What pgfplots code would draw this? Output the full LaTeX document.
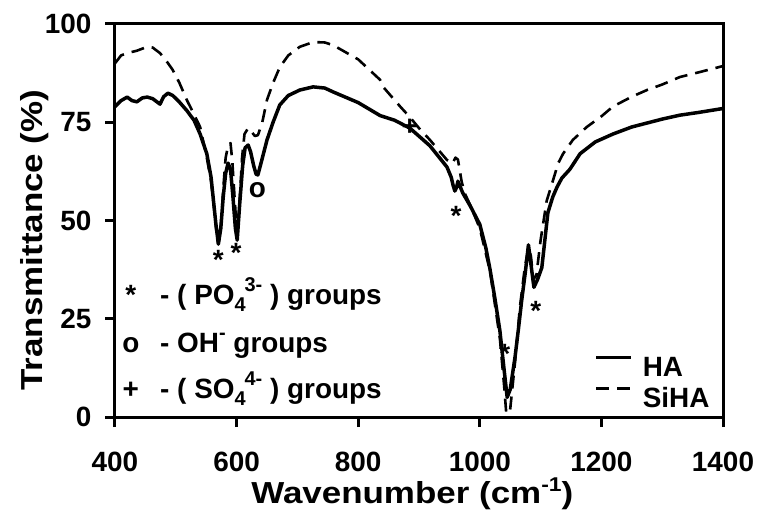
\documentclass[border=0pt]{standalone}
\usepackage{fontspec}
\setmainfont{Liberation Sans}
\newfontfamily\labelfont[FakeStretch=1.15]{Liberation Sans}
\usepackage{pgfplots}
\pgfplotsset{compat=1.18}
\newcommand{\bigf}{\fontsize{28}{33}\selectfont\bfseries}
\newcommand{\labf}{\labelfont\fontsize{30.5}{36}\selectfont\bfseries}
\newcommand{\smf}{\fontsize{20}{20}\selectfont\bfseries}
\begin{document}
\begin{tikzpicture}[font=\bigf]
\begin{axis}[
  at={(0,0)}, anchor=south west,
  scale only axis, width=608bp, height=393bp,
  xmin=400, xmax=1400, ymin=0, ymax=100,
  xtick={400,600,...,1400}, ytick={0,25,50,75,100},
  axis line style={line width=3bp},
  every tick/.style={line width=3bp, black},
  tick align=outside, major tick length=10bp,
  xtick pos=bottom, ytick pos=left,
  /pgf/number format/assume math mode=true,
  /pgf/number format/1000 sep={},
  ticklabel style={font=\bigf},
  xticklabel style={yshift=-21bp},
  yticklabel style={xshift=-10bp},
  xlabel={Wavenumber (cm\raisebox{12bp}{\labelfont\smf -1})},
  ylabel={Transmittance (\%)},
  xlabel style={font=\labf, at={(axis description cs:0.489,-0.221)}, anchor=base},
  ylabel style={font=\labf, at={(axis description cs:-0.120,0.45)}, anchor=base},
  legend style={draw=none, fill=none, at={(axis cs:1378,2.3)}, anchor=south east,
    inner sep=0bp, font=\bigf, row sep=11bp, column sep=10bp,
    nodes={inner sep=0bp, text height=20bp, text depth=0bp}},
  legend cell align=left,
  legend image code/.code={\draw[#1] (0bp,9bp) -- (35bp,9bp);},
]
\addplot[black, line width=3.5bp, line join=round] coordinates {
(400,79) (410,80.5) (420,81.4) (428,80.5) (436,80.2) (445,81.2) (453,81.4) (462,81)
(474,79.6) (480,81.5) (487,82.4) (495,81.8) (505,80.3) (518,78) (530,75.5) (540,72)
(551,67) (558,61) (562,55) (566,49) (570,44) (574,48) (578,56) (582,62) (586,64.6)
(590,63) (594,56) (598,48) (601,45) (605,54) (610,64) (614,68.5) (619,69.2) (623,67.5)
(628,64) (632,61.8) (635,61.6) (640,64.5) (650,70.5) (660,75) (671,79.4) (685,81.8)
(704,83.2) (726,84) (745,83.7) (759,82.7) (800,80) (836,76.7) (860,75.5) (885,73.5)
(918,69) (946,63.6) (953,61) (956,59) (959,57.5) (962,58.5) (964,60) (968,58.5)
(972,57) (985,53.5) (1000,49) (1010,43) (1017,37.4) (1025,30) (1033,22) (1040,12)
(1045,5) (1050,7) (1058,15.3) (1064,23) (1069,29.8) (1075,37) (1080,43.8) (1084,39)
(1089,33) (1095,35) (1102,38) (1107,45) (1112,52) (1120,56) (1127,58.5) (1135,60.8)
(1148,63) (1165,67) (1190,70) (1219,72) (1250,73.8) (1275,74.8) (1300,75.8)
(1329,76.8) (1360,77.5) (1400,78.5)
};
\addlegendentry{HA}
\addplot[black, line width=2.6bp, dash pattern=on 13bp off 8bp, line join=round] coordinates {
(400,90) (410,92) (420,92.6) (436,93.2) (453,94.2) (462,94) (474,92.6) (485,90.5)
(495,88.3) (506,85) (518,80.7) (530,77) (540,73.8) (551,66) (558,60) (563,53)
(567,47) (570,44) (574,48) (578,58) (582,66) (586,69) (590,69.7) (593,65) (597,55)
(601,46) (605,55) (609,66) (613,72) (619,73.5) (625,72.5) (630,71.5) (635,71.7)
(642,74.8) (650,80.7) (660,85) (671,89) (685,92) (704,94.2) (726,95.4) (745,95.3)
(759,94.6) (800,91) (836,85.8) (841,84) (855,81.5) (869,79) (885,76.3) (900,73.5)
(918,70.5) (946,65.4) (955,64.5) (960,66) (964,65.5) (970,60) (975,57) (984,54)
(1000,48) (1017,37) (1033,20) (1040,8) (1045,-2) (1050,2) (1058,14) (1066,28)
(1074,38) (1080,43) (1084,41) (1088,35) (1093,36) (1100,45) (1110,55) (1119,59.5)
(1129,64.6) (1137,67) (1153,70.5) (1176,73.8) (1200,76.5) (1219,79) (1250,81.5)
(1275,83.2) (1300,84.6) (1329,86.5) (1360,87.7) (1400,89.3)
};
\addlegendentry{SiHA}
% peak markers (text)
\node[inner sep=0, anchor=base, yshift=-16bp] at (axis cs:570,41.7) {*};
\node[inner sep=0, anchor=base, yshift=-16bp] at (axis cs:599,43.5) {*};
\node[inner sep=0] at (axis cs:634,57.8) {o};
\node[inner sep=0] at (axis cs:885,73.8) {+};
\node[inner sep=0, anchor=base, yshift=-16bp] at (axis cs:961,52.7) {*};
\node[inner sep=0, anchor=base, yshift=-16bp] at (axis cs:1041,17.6) {*};
\node[inner sep=0, anchor=base, yshift=-16bp] at (axis cs:1092,28.5) {*};
% key
\node[inner sep=0, anchor=base] at (axis cs:426,28.5) {*};
\node[inner sep=0, anchor=base] at (axis cs:426,16.5) {o};
\node[inner sep=0, anchor=base] at (axis cs:426,4.8) {+};
\node[inner sep=0, anchor=base west] at (axis cs:474,28.5) {- ( PO\raisebox{-7bp}{\smf 4}\kern-1bp\raisebox{13bp}{\smf 3-} ) groups};
\node[inner sep=0, anchor=base west] at (axis cs:474,16.5) {- OH\raisebox{13bp}{\smf -} groups};
\node[inner sep=0, anchor=base west] at (axis cs:474,4.8) {- ( SO\raisebox{-7bp}{\smf 4}\kern-1bp\raisebox{13bp}{\smf 4-} ) groups};
\end{axis}
\pgfresetboundingbox
\path[use as bounding box] (-115bp,-97bp) rectangle (644bp,417bp);
\end{tikzpicture}
\end{document}
